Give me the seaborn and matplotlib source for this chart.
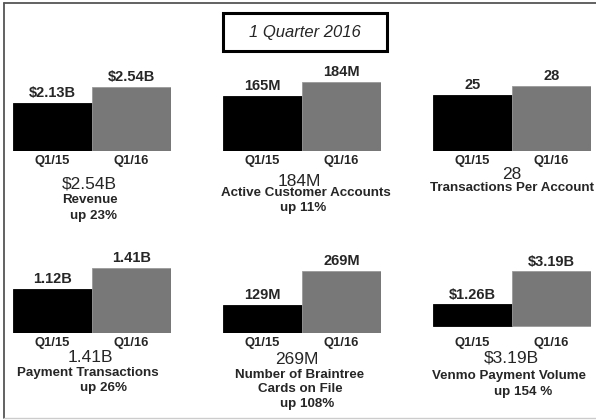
import matplotlib
matplotlib.use("Agg")
import matplotlib.pyplot as plt
import seaborn as sns
import pandas as pd
from matplotlib.patches import Rectangle
from matplotlib.lines import Line2D

# ---- data ----
periods = ["Q1/15", "Q1/16"]
revenue = [2.13, 2.54]
active_accounts = [165, 184]
txn_per_account = [25, 28]
payment_txns = [1.12, 1.41]
braintree_cards = [129, 269]
venmo_volume = [1.26, 3.19]

series_values = [revenue, active_accounts, txn_per_account,
                 payment_txns, braintree_cards, venmo_volume]
bar_labels = [["$2.13B", "$2.54B"], ["165M", "184M"], ["25", "28"],
              ["1.12B", "1.41B"], ["129M", "269M"], ["$1.26B", "$3.19B"]]
headline = ["$2.54B", "184M", "28", "1.41B", "269M", "$3.19B"]
captions = [["Revenue", "up 23%"],
            ["Active Customer Accounts", "up 11%"],
            ["Transactions Per Account"],
            ["Payment Transactions", "up 26%"],
            ["Number of Braintree", "Cards on File", "up 108%"],
            ["Venmo Payment Volume", "up 154 %"]]
title = "1 Quarter 2016"

# ---- style / layout ----
sns.set_theme(style="white")
plt.rcParams["font.family"] = ["Liberation Sans", "DejaVu Sans"]

W, H = 596, 420
fig = plt.figure(figsize=(W / 100, H / 100), dpi=100)
fig.patch.set_facecolor("white")

def fx(x):
    return x / W

def fy(y):
    return 1 - y / H

# per-panel axis value ranges (each panel has its own scale)
ylims = [(0.9, 2.95), (90.4, 198.9), (6.33, 33.0),
         (0.51, 1.62), (13.7, 343.0), (-0.38, 4.30)]
lefts = [13, 223, 433, 13, 223, 433]
baselines = [150.5, 151, 151, 332.5, 333, 332.5]
panel_w = 158
panel_h = 80
colors = ["#000000", "#787878"]

for i in range(6):
    left, base = lefts[i], baselines[i]
    ax = fig.add_axes([fx(left), fy(base), panel_w / W, panel_h / H])
    df = pd.DataFrame({"period": periods, "value": series_values[i]})
    sns.barplot(data=df, x="period", y="value", hue="period",
                palette=colors, width=1.0, legend=False, ax=ax,
                saturation=1)
    for p in ax.patches:
        p.set_edgecolor("#9a9a9a")
        p.set_linewidth(0.6)
    ax.patches[0].set_edgecolor("#000000")
    ax.set_ylim(*ylims[i])
    ax.set_xlim(-0.5, 1.5)
    for c, lab in zip(ax.containers, bar_labels[i]):
        ax.bar_label(c, labels=[lab], padding=2, fontsize=10.5,
                     fontweight="bold")
    ax.set_xlabel("")
    ax.set_ylabel("")
    ax.set_yticks([])
    ax.tick_params(axis="x", length=0, pad=3, labelsize=9.4)
    for t in ax.get_xticklabels():
        t.set_fontweight("bold")
    for s in ax.spines.values():
        s.set_visible(False)
    ax.set_facecolor("none")

# headline numbers and captions
head_pos = [(89, 184), (299, 181), (512, 174), (90, 357), (297, 359), (511, 358)]
cap_pos = [[(90, 200), (94, 216)],
           [(306, 193), (303, 208)],
           [(512, 188)],
           [(88, 373), (103, 388)],
           [(300, 375), (300, 389), (307, 404)],
           [(509, 376), (523, 392)]]
for i in range(6):
    x, y = head_pos[i]
    fig.text(fx(x), fy(y), headline[i], ha="center", va="center",
             fontsize=12.5)
    for txt, (cx, cy) in zip(captions[i], cap_pos[i]):
        fig.text(fx(cx), fy(cy), txt, ha="center", va="center",
                 fontsize=9.6, fontweight="bold")

# title box
fig.patches.append(Rectangle((fx(223), fy(51)), fx(387) - fx(223),
                             fy(13) - fy(51), transform=fig.transFigure,
                             fill=False, edgecolor="black", linewidth=2.2))
fig.text(fx(305), fy(32), title, ha="center", va="center", fontsize=12,
         fontstyle="italic")

# outer frame (left, top, bottom)
fig.lines.append(Line2D([fx(4), fx(4)], [fy(3), fy(418)],
                        transform=fig.transFigure, color="#555555", lw=1.3))
fig.lines.append(Line2D([fx(4), fx(596)], [fy(3), fy(3)],
                        transform=fig.transFigure, color="#555555", lw=1.3))
fig.lines.append(Line2D([fx(4), fx(596)], [fy(418), fy(418)],
                        transform=fig.transFigure, color="#cccccc", lw=1.0))

fig.savefig("out.png", dpi=100)
